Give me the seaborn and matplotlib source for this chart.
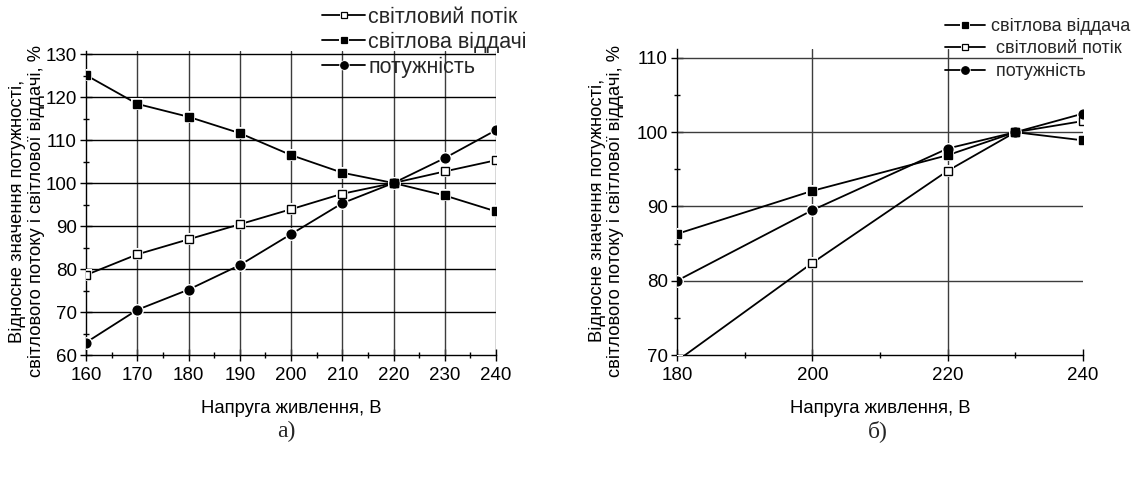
import matplotlib
matplotlib.use("Agg")
import matplotlib.pyplot as plt
import seaborn as sns
from matplotlib.lines import Line2D
from matplotlib.legend_handler import HandlerTuple
from matplotlib.ticker import MultipleLocator

# ---- panel а): voltage 160..240 V ----
volts_a = [160, 170, 180, 190, 200, 210, 220, 230, 240]
flux_a = [78.6, 83.4, 86.9, 90.4, 93.9, 97.5, 100.0, 102.7, 105.3]
efficacy_a = [125.1, 118.4, 115.4, 111.6, 106.5, 102.4, 100.0, 97.1, 93.4]
power_a = [62.9, 70.5, 75.2, 80.9, 88.1, 95.3, 100.0, 105.8, 112.3]
labels_a = ["світловий потік", "світлова віддачі", "потужність"]

# ---- panel б): voltage 180..240 V ----
volts_b = [180, 200, 220, 230, 240]
efficacy_b = [86.3, 92.1, 96.9, 100.0, 98.9]
flux_b = [69.2, 82.4, 94.8, 100.0, 101.5]
power_b = [80.0, 89.5, 97.8, 100.0, 102.5]
labels_b = ["світлова віддача", " світловий потік", " потужність"]

ylabel = "Відносне значення потужності,\nсвітлового потоку і світлової віддачі, %"
xlabel = "Напруга живлення, В"

sns.set_theme(style="white")
plt.rcParams["font.family"] = ["Liberation Sans", "DejaVu Sans"]

W, H = 1135, 479
fig = plt.figure(figsize=(W / 100, H / 100), dpi=100)
fig.patch.set_facecolor("white")

GRID = "#3c3c3c"


def px_axes(x0, x1, ytop, ybot):
    return fig.add_axes([x0 / W, 1 - ybot / H, (x1 - x0) / W, (ybot - ytop) / H])


# marker styles: (marker, face, size)
STY = {
    "open": ("s", "white", 5.2),
    "fill": ("s", "black", 5.6),
    "dot": ("o", "black", 6.3),
}


def series(ax, x, y, kind):
    marker, face, ms = STY[kind]
    sns.lineplot(x=x, y=y, ax=ax, color="black", lw=1.3, zorder=3,
                 estimator=None, sort=False)
    # white halo leaves a small gap between the line and each marker
    ax.plot(x, y, ls="none", marker=marker, ms=ms + 3.0, mfc="white",
            mec="white", mew=0, zorder=4)
    ax.plot(x, y, ls="none", marker=marker, ms=ms, mfc=face,
            mec="black", mew=1.0, zorder=5)
    line = Line2D([], [], color="black", lw=1.3)
    halo = Line2D([], [], ls="none", marker=marker, ms=ms + 1.2,
                  mfc="white", mec="white", mew=0)
    mark = Line2D([], [], ls="none", marker=marker, ms=ms - 0.9,
                  mfc=face, mec="black", mew=0.9)
    return (line, halo, mark)


def style_axes(ax):
    for s in ("top", "right"):
        ax.spines[s].set_visible(False)
    for s in ("left", "bottom"):
        ax.spines[s].set_color("black")
        ax.spines[s].set_linewidth(1.0)
    ax.tick_params(which="major", direction="inout", length=8, width=1.0,
                   color="black", labelsize=13.5, labelcolor="black")
    ax.tick_params(axis="x", which="major", pad=5)
    ax.tick_params(axis="y", which="major", pad=2.5)
    ax.tick_params(which="minor", direction="inout", length=5, width=1.0,
                   color="black")
    ax.tick_params(axis="x", which="both", bottom=True)
    ax.tick_params(axis="y", which="both", left=True)
    ax.set_xlabel(xlabel, fontsize=13.3, color="black", labelpad=11)
    ax.set_ylabel(ylabel, fontsize=13.2, color="black", linespacing=1.12)
    ax.set_facecolor("white")
    ax.grid(False)


# ---------------- panel а) ----------------
ax1 = px_axes(86, 496, 50.6, 355)
h_flux = series(ax1, volts_a, flux_a, "open")
h_eff = series(ax1, volts_a, efficacy_a, "fill")
h_pow = series(ax1, volts_a, power_a, "dot")
ax1.set_xlim(160, 240)
ax1.set_ylim(60, 130.8)
ax1.xaxis.set_major_locator(MultipleLocator(10))
ax1.xaxis.set_minor_locator(MultipleLocator(5))
ax1.yaxis.set_major_locator(MultipleLocator(10))
ax1.yaxis.set_minor_locator(MultipleLocator(5))
for v in volts_a[1:]:
    ax1.axvline(v, color=GRID, lw=1.0, zorder=1)
for v in range(70, 131, 10):
    ax1.axhline(v, color="black", lw=1.0, zorder=1)
style_axes(ax1)
ax1.yaxis.set_label_coords(-0.101, 0.472)

fig.legend([h_flux, h_eff, h_pow], labels_a,
           handler_map={tuple: HandlerTuple(ndivide=1, pad=0)},
           loc="upper left", bbox_to_anchor=(322 / W, 1 - 7 / H),
           frameon=False, fontsize=15.5, handlelength=2.0, handletextpad=0.15,
           labelspacing=0.17, borderpad=0, borderaxespad=0)

# ---------------- panel б) ----------------
ax2 = px_axes(677, 1083, 49, 355)
g_eff = series(ax2, volts_b, efficacy_b, "fill")
g_flux = series(ax2, volts_b, flux_b, "open")
g_pow = series(ax2, volts_b, power_b, "dot")
ax2.set_xlim(180, 240)
ax2.set_ylim(70, 111.2)
ax2.xaxis.set_major_locator(MultipleLocator(20))
ax2.xaxis.set_minor_locator(MultipleLocator(10))
ax2.yaxis.set_major_locator(MultipleLocator(10))
ax2.yaxis.set_minor_locator(MultipleLocator(5))
for v in (200, 220):
    ax2.axvline(v, color=GRID, lw=1.0, zorder=1)
for v in range(80, 111, 10):
    ax2.axhline(v, color=GRID, lw=1.0, zorder=1)
style_axes(ax2)
ax2.yaxis.set_label_coords(-0.13, 0.472)

fig.legend([g_eff, g_flux, g_pow], labels_b,
           handler_map={tuple: HandlerTuple(ndivide=1, pad=0)},
           loc="upper left", bbox_to_anchor=(945 / W, 1 - 18 / H),
           frameon=False, fontsize=13, handlelength=2.2, handletextpad=0.35,
           labelspacing=0.3, borderpad=0, borderaxespad=0)

# panel captions
fig.text(286 / W, 1 - 431 / H, "а)", ha="center", va="center",
         fontsize=17, family=["Liberation Serif", "DejaVu Serif"])
fig.text(878 / W, 1 - 431 / H, "б)", ha="center", va="center",
         fontsize=17, family=["Liberation Serif", "DejaVu Serif"])

fig.savefig("out.png", dpi=100, facecolor="white")
